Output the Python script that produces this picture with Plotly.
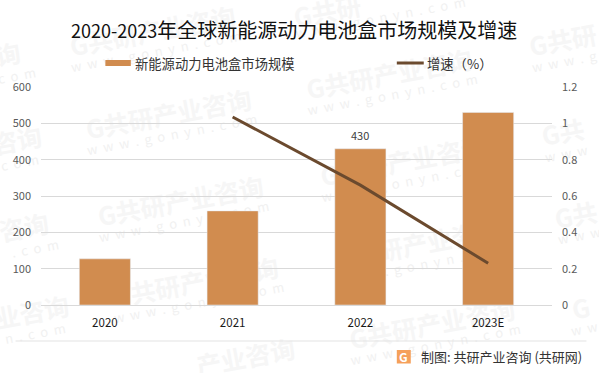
import plotly.graph_objects as go

W, H = 599, 373
L, R, T, B = 40.5, 552.5, 87, 305

categories = ["2020", "2021", "2022", "2023E"]
market_size = [127, 259, 430, 530]
growth = [None, 1.035, 0.66, 0.23]
labelled_index = 2
left_ticks = [0, 100, 200, 300, 400, 500, 600]
right_ticks = [0, 0.2, 0.4, 0.6, 0.8, 1, 1.2]
FONT = "Noto Sans CJK SC, Noto Sans, sans-serif"
BAR_NAME = "新能源动力电池盒市场规模"
LINE_NAME = "增速（%）"
BAR_COLOR = "#D18C4F"
LINE_COLOR = "#6B4A2E"
URL = "w  w  w  .  g  o  n  y  n  .  c  o  m"


def px(x):
    return (x - L) / (R - L)


def py(y):
    return (B - y) / (B - T)


# (brand text, url text, centre x, centre y, url centre x, url centre y)
watermarks = [
    ("G共研产业咨询", URL, 153, 34, 156, 53),
    ("G共研产业咨询", URL, 169, 117, 172, 136),
    ("G共研产业咨询", URL, 181, 204, 184, 223),
    ("G共研产业咨询", URL, 196, 285, 199, 304),
    ("产业咨询", "", 246, 360, 0, 0),
    ("G共研", URL, 328, 14, 381, 19),
    ("G共研产业咨询", URL, 390, 77, 393, 96),
    ("G共研产业咨询", URL, 404, 164, 407, 183),
    ("G共研产业咨询", URL, 419, 247, 422, 266),
    ("G共研产业咨询", URL, 433, 327, 436, 346),
    ("G共研", "w  w  w  .  g", 564, 43, 565, 63),
    ("G共", "w  w  w", 564, 135, 567, 155),
    ("G共", "w  w  w", 577, 218, 580, 237),
    ("G", "w  w", 582, 311, 585, 330),
    ("询", ".  c  o  m", 8, 57, 12, 78),
    ("咨询", ".  c  o  m", 17, 143, 15, 165),
    ("咨询", ".  c  o  m", 24, 230, 35, 250),
    ("业咨询", "n  .  c  o  m", 32, 315, 35, 335),
]


def wm_shape(text, cx, cy, size, color):
    return dict(
        type="rect", xref="paper", yref="paper", layer="below",
        x0=px(cx - 1), x1=px(cx + 1), y0=py(cy + 1), y1=py(cy - 1),
        line=dict(width=0), fillcolor="rgba(0,0,0,0)",
        label=dict(text=text, textangle=-10.6, textposition="middle center",
                   font=dict(size=size, color=color, family=FONT)),
    )


shapes = []
for brand, url, bx, by, ux, uy in watermarks:
    shapes.append(wm_shape("<b>" + brand + "</b>", bx, by, 25, "#F6F6F6"))
    if url:
        shapes.append(wm_shape(url, ux, uy, 13, "#F1F1F1"))

shapes += [
    dict(type="line", xref="paper", yref="paper", x0=px(15), x1=px(587), y0=py(341), y1=py(341),
         line=dict(color="#E3E3E3", width=1)),
    dict(type="rect", xref="paper", yref="paper", x0=px(105), x1=px(130.5), y0=py(66), y1=py(60),
         fillcolor=BAR_COLOR, line=dict(width=0)),
    dict(type="line", xref="paper", yref="paper", x0=px(397), x1=px(424), y0=py(63), y1=py(63),
         line=dict(color=LINE_COLOR, width=3)),
    dict(type="rect", xref="paper", yref="paper", x0=px(397), x1=px(411), y0=py(363.5), y1=py(350),
         fillcolor="#F5A05A", line=dict(width=0)),
]


def note(x, y, text, size, color, xanchor="center"):
    return dict(x=px(x), y=py(y), xref="paper", yref="paper", xanchor=xanchor, yanchor="middle",
                showarrow=False, text=text, font=dict(size=size, color=color, family=FONT))


annotations = [
    note(293.5, 29, '<span style="font-size:18px">2020-2023</span>年全球新能源动力电池盒市场规模及增速', 20, "#111111"),
    note(133, 63, BAR_NAME, 13.3, "#333333", "left"),
    note(425.5, 63, LINE_NAME, 13.3, "#333333", "left"),
    note(419, 356, "制图: 共研产业咨询 (共研网)", 13, "#333333", "left"),
    note(404, 356.5, "<b>G</b>", 12, "white"),
    dict(x=labelled_index, y=market_size[labelled_index], xref="x", yref="y", showarrow=False,
         yshift=14, text=str(market_size[labelled_index]), font=dict(size=11, color="#404040", family=FONT)),
]

fig = go.Figure()
fig.add_trace(go.Bar(x=categories, y=market_size, name=BAR_NAME, marker_color=BAR_COLOR, width=0.4))
fig.add_trace(go.Scatter(x=categories, y=growth, name=LINE_NAME, yaxis="y2", mode="lines",
                         line=dict(color=LINE_COLOR, width=3)))

fig.update_layout(
    width=W, height=H, autosize=False, paper_bgcolor="white", plot_bgcolor="rgba(0,0,0,0)",
    margin=dict(l=L, r=W - R, t=T, b=H - B, pad=0),
    font=dict(family=FONT, size=11, color="#595959"),
    showlegend=False,
    xaxis=dict(type="category", range=[-0.5, 3.5], showgrid=False, showline=True, linecolor="#D9D9D9", ticks="",
               tickfont=dict(size=11.5, color="#1a1a1a"), ticklabelstandoff=7),
    yaxis=dict(range=[0, 600], tickvals=left_ticks, gridcolor="#D9D9D9", gridwidth=1, zeroline=False, ticks="",
               tickfont=dict(size=11, color="#595959"), ticklabelstandoff=9),
    yaxis2=dict(range=[0, 1.2], tickvals=right_ticks, overlaying="y", side="right", showgrid=False,
                zeroline=False, ticks="", tickfont=dict(size=11, color="#595959"), ticklabelstandoff=9),
    annotations=annotations, shapes=shapes,
)
fig.write_html("out.html", config={"displayModeBar": False},
               post_script="document.body.style.margin='0';document.documentElement.style.overflow='hidden';")
